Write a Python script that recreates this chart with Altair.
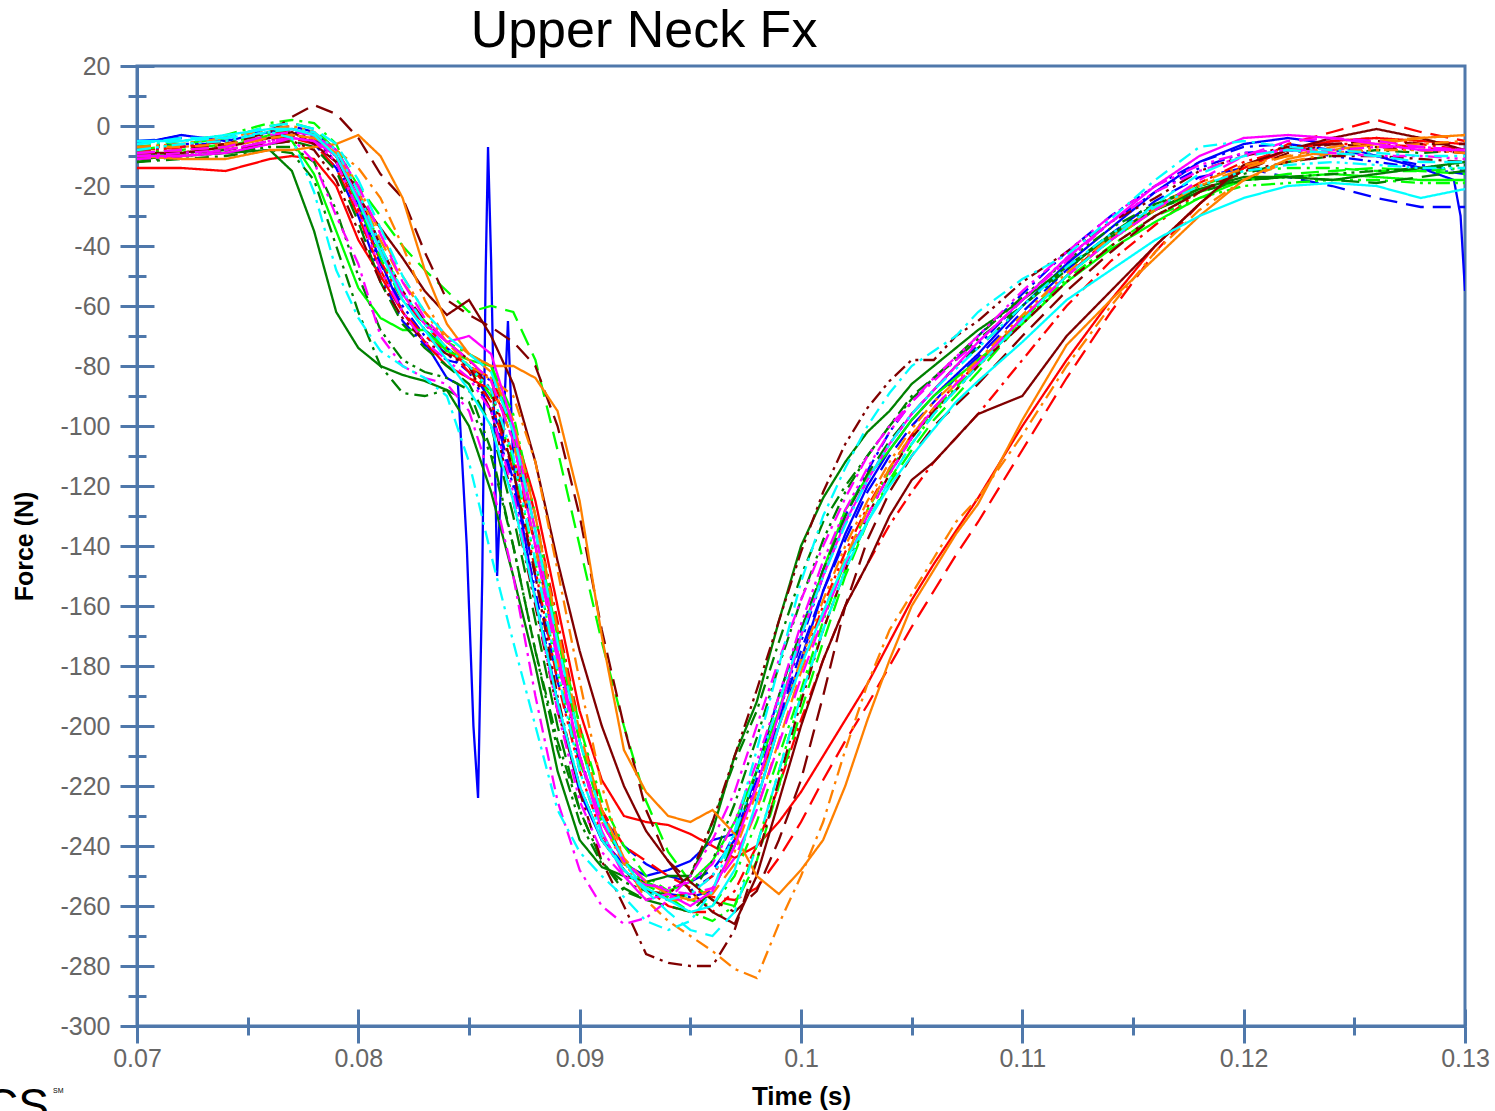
import altair as alt
import pandas as pd

# ---------------- data ----------------
T = [0.070, 0.072, 0.074, 0.076, 0.077, 0.078, 0.079, 0.080, 0.081, 0.082,
     0.083, 0.084, 0.085, 0.086, 0.087, 0.088, 0.089, 0.090, 0.091, 0.092,
     0.093, 0.094, 0.095, 0.096, 0.097, 0.098, 0.099, 0.100, 0.101, 0.102,
     0.103, 0.104, 0.105, 0.106, 0.107, 0.108, 0.110, 0.112, 0.114, 0.116,
     0.118, 0.120, 0.122, 0.124, 0.126, 0.128, 0.130]

BLUE_SOLID_T = [0.070, 0.072, 0.074, 0.076, 0.077, 0.078, 0.079, 0.080, 0.081, 0.082, 0.083, 0.084,
                0.0845, 0.0849, 0.0852, 0.08541, 0.0856, 0.08575, 0.08586, 0.0860, 0.08627, 0.0865, 0.08676, 0.0870, 0.0873,
                0.088, 0.089, 0.090, 0.091, 0.092, 0.093, 0.094, 0.095, 0.096, 0.097,
                0.0975, 0.098, 0.099, 0.100, 0.101, 0.102, 0.103, 0.104, 0.105, 0.106,
                0.107, 0.108, 0.110, 0.112, 0.114, 0.116, 0.118, 0.120, 0.122, 0.124,
                0.126, 0.128, 0.1295, 0.1298, 0.130]
BLUE_SOLID_F = [-6, -3, -5, -2, -1, -3, -10, -26, -45, -62, -72, -84,
                -86, -140, -200, -224, -150, -50, -7, -45, -150, -110, -65, -112, -128,
                -158, -192, -222, -238, -246, -250, -248, -245, -238, -236,
                -222, -225, -200, -178, -155, -136, -120, -108, -98, -90,
                -83, -76, -60, -46, -34, -22, -12, -6, -4, -6,
                -10, -14, -18, -30, -55]

BLUE_DASHED = [-5, -4, -4, -1, 0, -2, -8, -22, -40, -56,
               -68, -74, -80, -92, -118, -150, -185, -212, -230, -240,
               -246, -250, -252, -248, -238, -220, -198, -175, -155, -138,
               -122, -110, -100, -92, -84, -77, -62, -48, -36, -25,
               -17, -14, -17, -20, -24, -27, -27]
BLUE_DASHDOT = [-7, -6, -6, -4, -3, -6, -14, -30, -50, -65,
                -73, -78, -80, -85, -105, -140, -178, -210, -232, -245,
                -252, -256, -257, -255, -240, -215, -190, -168, -148, -130,
                -115, -102, -92, -84, -78, -70, -56, -42, -30, -20,
                -12, -7, -6, -8, -10, -13, -15]
BLUE_DASHDOTDOT = [-8, -7, -5, -3, -2, -4, -12, -28, -46, -60,
                   -70, -76, -82, -95, -120, -155, -192, -220, -238, -248,
                   -255, -258, -255, -250, -236, -218, -196, -172, -150, -132,
                   -118, -106, -96, -88, -80, -73, -58, -44, -32, -22,
                   -14, -9, -8, -10, -12, -14, -16]
RED_SOLID = [-14, -14, -15, -11, -10, -11, -20, -38, -50, -62,
             -72, -80, -84, -88, -100, -125, -160, -195, -218, -230,
             -232, -233, -236, -240, -244, -240, -232, -222, -210, -198,
             -186, -172, -158, -146, -135, -124, -100, -78, -58, -40,
             -26, -14, -8, -5, -4, -5, -6]
RED_DASHED = [-8, -7, -6, -4, -4, -6, -14, -30, -48, -62,
              -70, -75, -80, -88, -110, -140, -175, -205, -228, -240,
              -245, -250, -254, -257, -258, -254, -244, -232, -218, -205,
              -193, -180, -167, -155, -143, -132, -108, -84, -62, -42,
              -26, -14, -6, -2, 2, -2, -5]
RED_DASHDOT = [-10, -9, -6, -4, -3, -5, -12, -28, -45, -58,
               -66, -74, -80, -84, -100, -130, -165, -200, -228, -245,
               -254, -260, -262, -262, -255, -240, -220, -198, -178, -160,
               -146, -133, -122, -112, -104, -96, -78, -60, -45, -33,
               -22, -14, -8, -5, -4, -6, -8]
RED_DASHDOTDOT = [-9, -7, -5, -3, -1, -3, -10, -25, -42, -56,
                  -66, -74, -82, -92, -115, -148, -185, -215, -236, -248,
                  -255, -257, -256, -250, -238, -220, -200, -180, -160, -142,
                  -127, -114, -103, -94, -86, -79, -64, -50, -37, -27,
                  -19, -12, -8, -6, -6, -7, -9]
LIME_SOLID = [-10, -9, -7, -3, -5, -16, -35, -54, -64, -68,
              -68, -75, -78, -80, -102, -135, -170, -205, -230, -245,
              -252, -255, -252, -245, -232, -215, -195, -170, -148, -128,
              -117, -108, -98, -90, -84, -78, -66, -52, -41, -32,
              -24, -18, -17, -16, -17, -18, -18]
LIME_DASHED = [-8, -6, -4, 0, 1, -1, -8, -20, -30, -40,
               -48, -55, -62, -60, -62, -78, -108, -140, -172, -200,
               -225, -242, -252, -258, -260, -245, -220, -195, -172, -150,
               -132, -119, -108, -98, -90, -82, -65, -50, -38, -28,
               -22, -18, -16, -15, -14, -15, -16]
LIME_DASHDOT = [-7, -5, -3, 1, 2, 1, -6, -22, -40, -56,
                -65, -72, -76, -80, -96, -130, -168, -200, -225, -240,
                -250, -255, -258, -260, -250, -232, -210, -188, -165, -145,
                -128, -115, -104, -95, -87, -80, -64, -50, -38, -28,
                -20, -15, -14, -14, -15, -15, -14]
LIME_DASHDOTDOT = [-9, -8, -6, -2, -1, -3, -10, -26, -44, -58,
                   -68, -74, -80, -90, -112, -145, -182, -212, -232, -245,
                   -253, -257, -262, -265, -260, -240, -215, -190, -168, -148,
                   -132, -118, -106, -96, -88, -80, -65, -51, -40, -30,
                   -24, -20, -19, -18, -18, -19, -19]
DGREEN_SOLID = [-11, -10, -9, -8, -15, -35, -62, -74, -80, -83,
                -85, -88, -100, -122, -150, -180, -215, -238, -247, -250,
                -252, -250, -250, -235, -210, -192, -165, -140, -124, -112,
                -102, -95, -86, -80, -74, -68, -58, -47, -37, -28,
                -21, -17, -17, -18, -16, -14, -12]
DGREEN_DASHED = [-10, -9, -8, -6, -5, -7, -15, -32, -52, -66,
                 -74, -80, -86, -100, -130, -165, -200, -228, -245, -254,
                 -258, -260, -262, -255, -238, -215, -190, -168, -148, -130,
                 -116, -105, -96, -88, -80, -74, -60, -47, -36, -28,
                 -22, -18, -17, -18, -19, -17, -15]
DGREEN_DASHDOT = [-12, -11, -10, -8, -9, -18, -40, -62, -80, -89,
                  -90, -88, -92, -110, -140, -175, -205, -228, -245, -255,
                  -258, -255, -250, -232, -212, -195, -172, -150, -132, -120,
                  -110, -100, -90, -84, -78, -71, -60, -48, -36, -26,
                  -20, -16, -12, -10, -8, -9, -8]
DGREEN_DASHDOTDOT = [-12, -10, -9, -7, -7, -12, -28, -50, -68, -78,
                     -82, -84, -88, -108, -140, -175, -208, -232, -246, -252,
                     -255, -258, -256, -245, -226, -204, -180, -158, -138, -122,
                     -110, -100, -91, -84, -77, -70, -57, -45, -34, -26,
                     -21, -18, -17, -16, -15, -14, -13]
MAROON_SOLID = [-9, -9, -7, -4, -2, -6, -12, -24, -34, -44,
                -55, -63, -58, -70, -86, -112, -145, -175, -200, -220,
                -235, -245, -255, -262, -266, -250, -225, -200, -178, -160,
                -146, -130, -118, -112, -104, -96, -90, -70, -55, -40,
                -26, -13, -8, -4, -1, -4, -8]
MAROON_DASHED = [-9, -8, -6, -2, 3, 7, 4, -4, -16, -24,
                 -42, -58, -63, -67, -72, -80, -100, -130, -168, -200,
                 -228, -245, -252, -258, -262, -255, -238, -218, -190, -160,
                 -138, -122, -110, -100, -93, -86, -70, -55, -42, -30,
                 -22, -15, -9, -6, -5, -6, -6]
MAROON_DASHDOT = [-10, -9, -8, -5, -3, -5, -10, -22, -40, -55,
                  -65, -72, -78, -88, -115, -150, -190, -222, -245, -260,
                  -276, -279, -280, -280, -268, -245, -218, -192, -168, -148,
                  -130, -116, -104, -95, -88, -80, -66, -52, -40, -30,
                  -22, -15, -12, -10, -10, -11, -12]
MAROON_DASHDOTDOT = [-11, -10, -8, -6, -5, -8, -18, -35, -52, -64,
                     -72, -76, -80, -95, -125, -160, -195, -220, -238, -248,
                     -255, -256, -250, -232, -210, -188, -165, -142, -122, -106,
                     -94, -85, -78, -78, -70, -65, -52, -42, -32, -24,
                     -15, -10, -7, -6, -7, -8, -9]
ORANGE_SOLID = [-10, -11, -11, -8, -8, -7, -6, -3, -10, -24,
                -48, -66, -76, -80, -80, -84, -95, -125, -170, -208,
                -222, -230, -232, -228, -236, -250, -256, -248, -238, -220,
                -198, -178, -160, -148, -136, -126, -98, -73, -58, -44,
                -30, -18, -11, -8, -6, -4, -3]
ORANGE_DASHED = [-9, -8, -7, -4, -3, -4, -9, -22, -38, -52,
                 -62, -70, -76, -82, -98, -130, -168, -202, -228, -244,
                 -252, -256, -258, -256, -246, -228, -205, -182, -162, -144,
                 -128, -114, -103, -94, -86, -79, -64, -50, -38, -28,
                 -20, -14, -10, -7, -5, -4, -3]
ORANGE_DASHDOT = [-7, -7, -6, -4, -3, -4, -8, -14, -24, -40,
                  -58, -72, -80, -84, -90, -112, -148, -185, -220, -245,
                  -258, -265, -270, -275, -281, -284, -266, -250, -232, -208,
                  -186, -168, -156, -144, -132, -124, -103, -80, -60, -42,
                  -28, -18, -12, -9, -7, -6, -5]
ORANGE_DASHDOTDOT = [-7, -6, -4, -1, 0, -2, -8, -20, -36, -50,
                     -62, -72, -78, -85, -105, -140, -178, -210, -232, -246,
                     -254, -258, -258, -254, -242, -222, -200, -178, -158, -140,
                     -125, -112, -101, -92, -85, -78, -63, -49, -37, -27,
                     -19, -13, -10, -9, -8, -8, -9]
MAGENTA_SOLID = [-10, -10, -9, -6, -4, -5, -10, -24, -42, -56,
                 -66, -72, -70, -76, -100, -135, -175, -210, -235, -250,
                 -258, -256, -260, -255, -240, -220, -196, -170, -150, -132,
                 -118, -106, -96, -88, -80, -72, -58, -44, -32, -20,
                 -10, -4, -3, -4, -6, -8, -8]
MAGENTA_DASHED = [-9, -8, -7, -3, -2, -3, -8, -20, -36, -52,
                  -64, -72, -78, -85, -105, -140, -178, -210, -232, -245,
                  -252, -255, -256, -254, -244, -228, -206, -184, -164, -146,
                  -130, -116, -104, -94, -86, -79, -64, -50, -38, -28,
                  -18, -10, -5, -4, -5, -7, -8]
MAGENTA_DASHDOT = [-10, -9, -8, -5, -4, -12, -30, -46, -70, -80,
                   -84, -86, -95, -118, -150, -190, -225, -248, -260, -266,
                   -264, -258, -250, -238, -222, -200, -178, -158, -140, -124,
                   -110, -100, -92, -85, -78, -72, -58, -45, -32, -22,
                   -15, -10, -8, -8, -7, -7, -8]
MAGENTA_DASHDOTDOT = [-11, -10, -8, -5, -4, -5, -12, -28, -48, -62,
                      -72, -78, -84, -95, -122, -158, -195, -225, -242, -250,
                      -253, -254, -252, -246, -232, -212, -190, -166, -145, -128,
                      -114, -102, -92, -84, -77, -70, -55, -42, -30, -20,
                      -13, -9, -8, -9, -10, -10, -11]
CYAN_SOLID = [-5, -5, -3, -1, -1, -3, -10, -25, -42, -58,
              -68, -78, -88, -100, -125, -158, -192, -220, -238, -248,
              -254, -258, -262, -260, -248, -225, -200, -180, -162, -145,
              -132, -120, -110, -101, -92, -85, -72, -58, -48, -38,
              -30, -24, -20, -19, -20, -24, -21]
CYAN_DASHED = [-6, -4, -4, 0, 1, -1, -6, -18, -34, -50,
               -62, -70, -76, -82, -102, -135, -172, -205, -230, -245,
               -255, -262, -268, -270, -262, -240, -215, -190, -168, -148,
               -132, -118, -106, -96, -88, -80, -65, -50, -38, -26,
               -16, -10, -8, -9, -10, -12, -12]
CYAN_DASHDOT = [-6, -5, -4, -2, -4, -22, -48, -64, -75, -80,
                -84, -90, -112, -143, -172, -200, -228, -242, -250, -257,
                -265, -268, -265, -255, -235, -208, -180, -152, -130, -114,
                -100, -89, -80, -75, -70, -62, -51, -43, -31, -18,
                -7, -5, -7, -8, -9, -10, -10]
CYAN_DASHDOTDOT = [-8, -6, -5, -2, -1, -2, -8, -22, -40, -55,
                   -66, -74, -80, -88, -110, -145, -182, -215, -236, -248,
                   -255, -258, -256, -250, -236, -215, -192, -170, -150, -133,
                   -118, -106, -96, -88, -81, -74, -60, -47, -36, -27,
                   -20, -15, -13, -12, -13, -14, -14]

# series: name, colour, dash style, values
SERIES = [
    ("Blue solid", "#0000FF", "solid", BLUE_SOLID_F),
    ("Blue dashed", "#0000FF", "dashed", BLUE_DASHED),
    ("Blue dash-dot", "#0000FF", "dashdot", BLUE_DASHDOT),
    ("Blue dash-dot-dot", "#0000FF", "dashdotdot", BLUE_DASHDOTDOT),
    ("Red solid", "#FF0000", "solid", RED_SOLID),
    ("Red dashed", "#FF0000", "dashed", RED_DASHED),
    ("Red dash-dot", "#FF0000", "dashdot", RED_DASHDOT),
    ("Red dash-dot-dot", "#FF0000", "dashdotdot", RED_DASHDOTDOT),
    ("Lime solid", "#00FF00", "solid", LIME_SOLID),
    ("Lime dashed", "#00FF00", "dashed", LIME_DASHED),
    ("Lime dash-dot", "#00FF00", "dashdot", LIME_DASHDOT),
    ("Lime dash-dot-dot", "#00FF00", "dashdotdot", LIME_DASHDOTDOT),
    ("Green solid", "#008000", "solid", DGREEN_SOLID),
    ("Green dashed", "#008000", "dashed", DGREEN_DASHED),
    ("Green dash-dot", "#008000", "dashdot", DGREEN_DASHDOT),
    ("Green dash-dot-dot", "#008000", "dashdotdot", DGREEN_DASHDOTDOT),
    ("Maroon solid", "#800000", "solid", MAROON_SOLID),
    ("Maroon dashed", "#800000", "dashed", MAROON_DASHED),
    ("Maroon dash-dot", "#800000", "dashdot", MAROON_DASHDOT),
    ("Maroon dash-dot-dot", "#800000", "dashdotdot", MAROON_DASHDOTDOT),
    ("Orange solid", "#FF8000", "solid", ORANGE_SOLID),
    ("Orange dashed", "#FF8000", "dashed", ORANGE_DASHED),
    ("Orange dash-dot", "#FF8000", "dashdot", ORANGE_DASHDOT),
    ("Orange dash-dot-dot", "#FF8000", "dashdotdot", ORANGE_DASHDOTDOT),
    ("Magenta solid", "#FF00FF", "solid", MAGENTA_SOLID),
    ("Magenta dashed", "#FF00FF", "dashed", MAGENTA_DASHED),
    ("Magenta dash-dot", "#FF00FF", "dashdot", MAGENTA_DASHDOT),
    ("Magenta dash-dot-dot", "#FF00FF", "dashdotdot", MAGENTA_DASHDOTDOT),
    ("Cyan solid", "#00FFFF", "solid", CYAN_SOLID),
    ("Cyan dashed", "#00FFFF", "dashed", CYAN_DASHED),
    ("Cyan dash-dot", "#00FFFF", "dashdot", CYAN_DASHDOT),
    ("Cyan dash-dot-dot", "#00FFFF", "dashdotdot", CYAN_DASHDOTDOT),
]

X_MAJOR = [0.07, 0.08, 0.09, 0.1, 0.11, 0.12, 0.13]
X_MINOR = [0.075, 0.085, 0.095, 0.105, 0.115, 0.125]
Y_MAJOR = [-300, -280, -260, -240, -220, -200, -180, -160, -140, -120,
           -100, -80, -60, -40, -20, 0, 20]
Y_MINOR = [-290, -270, -250, -230, -210, -190, -170, -150, -130, -110,
           -90, -70, -50, -30, -10, 10]

# ---------------- styling ----------------
DASHES = {"solid": [1, 0], "dashed": [18, 9], "dashdot": [14, 6, 3, 6],
          "dashdotdot": [14, 5, 3, 5, 3, 5]}
AX = "#4F78AB"
FONT = "Liberation Sans"

rows = []
for name, colour, dash, vals in SERIES:
    times = BLUE_SOLID_T if name == "Blue solid" else T
    for t, f in zip(times, vals):
        rows.append({"series": name, "t": t, "f": f})
df = pd.DataFrame(rows)

names = [s[0] for s in SERIES]
colours = [s[1] for s in SERIES]
dashes = [DASHES[s[2]] for s in SERIES]

xs = alt.Scale(domain=[0.07, 0.13], nice=False, zero=False)
ys = alt.Scale(domain=[-300, 20], nice=False, zero=False)

lines = alt.Chart(df).mark_line(strokeWidth=2.3, clip=True).encode(
    x=alt.X("t:Q", scale=xs, axis=alt.Axis(
        orient="bottom", values=X_MAJOR, labelExpr="'' + datum.value",
        tickSize=17, tickWidth=3, tickColor=AX, domainColor=AX, domainWidth=3,
        labelFont=FONT, labelFontSize=25, labelColor="#666666", labelPadding=3,
        labelOverlap=False, labelFlush=False, grid=False,
        title="Time (s)", titleFont=FONT, titleFontSize=26, titleFontWeight="bold",
        titleColor="black", titlePadding=12)),
    y=alt.Y("f:Q", scale=ys, axis=alt.Axis(
        orient="left", values=Y_MAJOR, labelExpr="'' + datum.value",
        tickSize=17, tickWidth=3, tickColor=AX, domainColor=AX, domainWidth=3,
        labelFont=FONT, labelFontSize=25, labelColor="#666666", labelPadding=10,
        labelOverlap=False, labelFlush=False, grid=False,
        title="Force (N)", titleFont=FONT, titleFontSize=25, titleFontWeight="bold",
        titleColor="black", titlePadding=22)),
    color=alt.Color("series:N", scale=alt.Scale(domain=names, range=colours), legend=None),
    strokeDash=alt.StrokeDash("series:N", scale=alt.Scale(domain=names, range=dashes), legend=None),
)

anchor = pd.DataFrame({"t": [0.1], "f": [-100]})


def tick_layer(xvals, yvals, size, offset):
    return alt.Chart(anchor).mark_point(opacity=0).encode(
        x=alt.X("t:Q", scale=xs, axis=alt.Axis(
            orient="bottom", values=xvals, tickSize=size, offset=offset, tickWidth=3,
            tickColor=AX, labels=False, domain=False, grid=False, title=None)),
        y=alt.Y("f:Q", scale=ys, axis=alt.Axis(
            orient="left", values=yvals, tickSize=size, offset=offset, tickWidth=3,
            tickColor=AX, labels=False, domain=False, grid=False, title=None)),
    )


minor_out = tick_layer(X_MINOR, Y_MINOR, 9, 0)
major_in = tick_layer(X_MAJOR, Y_MAJOR, 17, -17)
minor_in = tick_layer(X_MINOR, Y_MINOR, 9, -9)

logo = alt.Chart(pd.DataFrame({"txt": ["CS"]})).mark_text(
    font=FONT, fontSize=46, align="left", baseline="top", color="black"
).encode(x=alt.value(-152), y=alt.value(1019), text="txt:N")
logo_sm = alt.Chart(pd.DataFrame({"txt": ["SM"]})).mark_text(
    font=FONT, fontSize=7, align="left", baseline="top", color="black"
).encode(x=alt.value(-84), y=alt.value(1021), text="txt:N")

chart = alt.layer(lines, minor_out, major_in, minor_in, logo, logo_sm).resolve_axis(
    x="independent", y="independent"
).properties(
    width=1328, height=960,
    title=alt.TitleParams("Upper Neck Fx", font=FONT, fontSize=52, fontWeight="normal",
                          color="black", anchor="middle", dx=-157, offset=-4),
    autosize=alt.AutoSizeParams(type="none"),
    padding={"left": 137, "top": 66, "right": 30, "bottom": 85},
).configure_view(stroke=AX, strokeWidth=3)

chart.save("out.html", embed_options={"renderer": "svg", "actions": False})
